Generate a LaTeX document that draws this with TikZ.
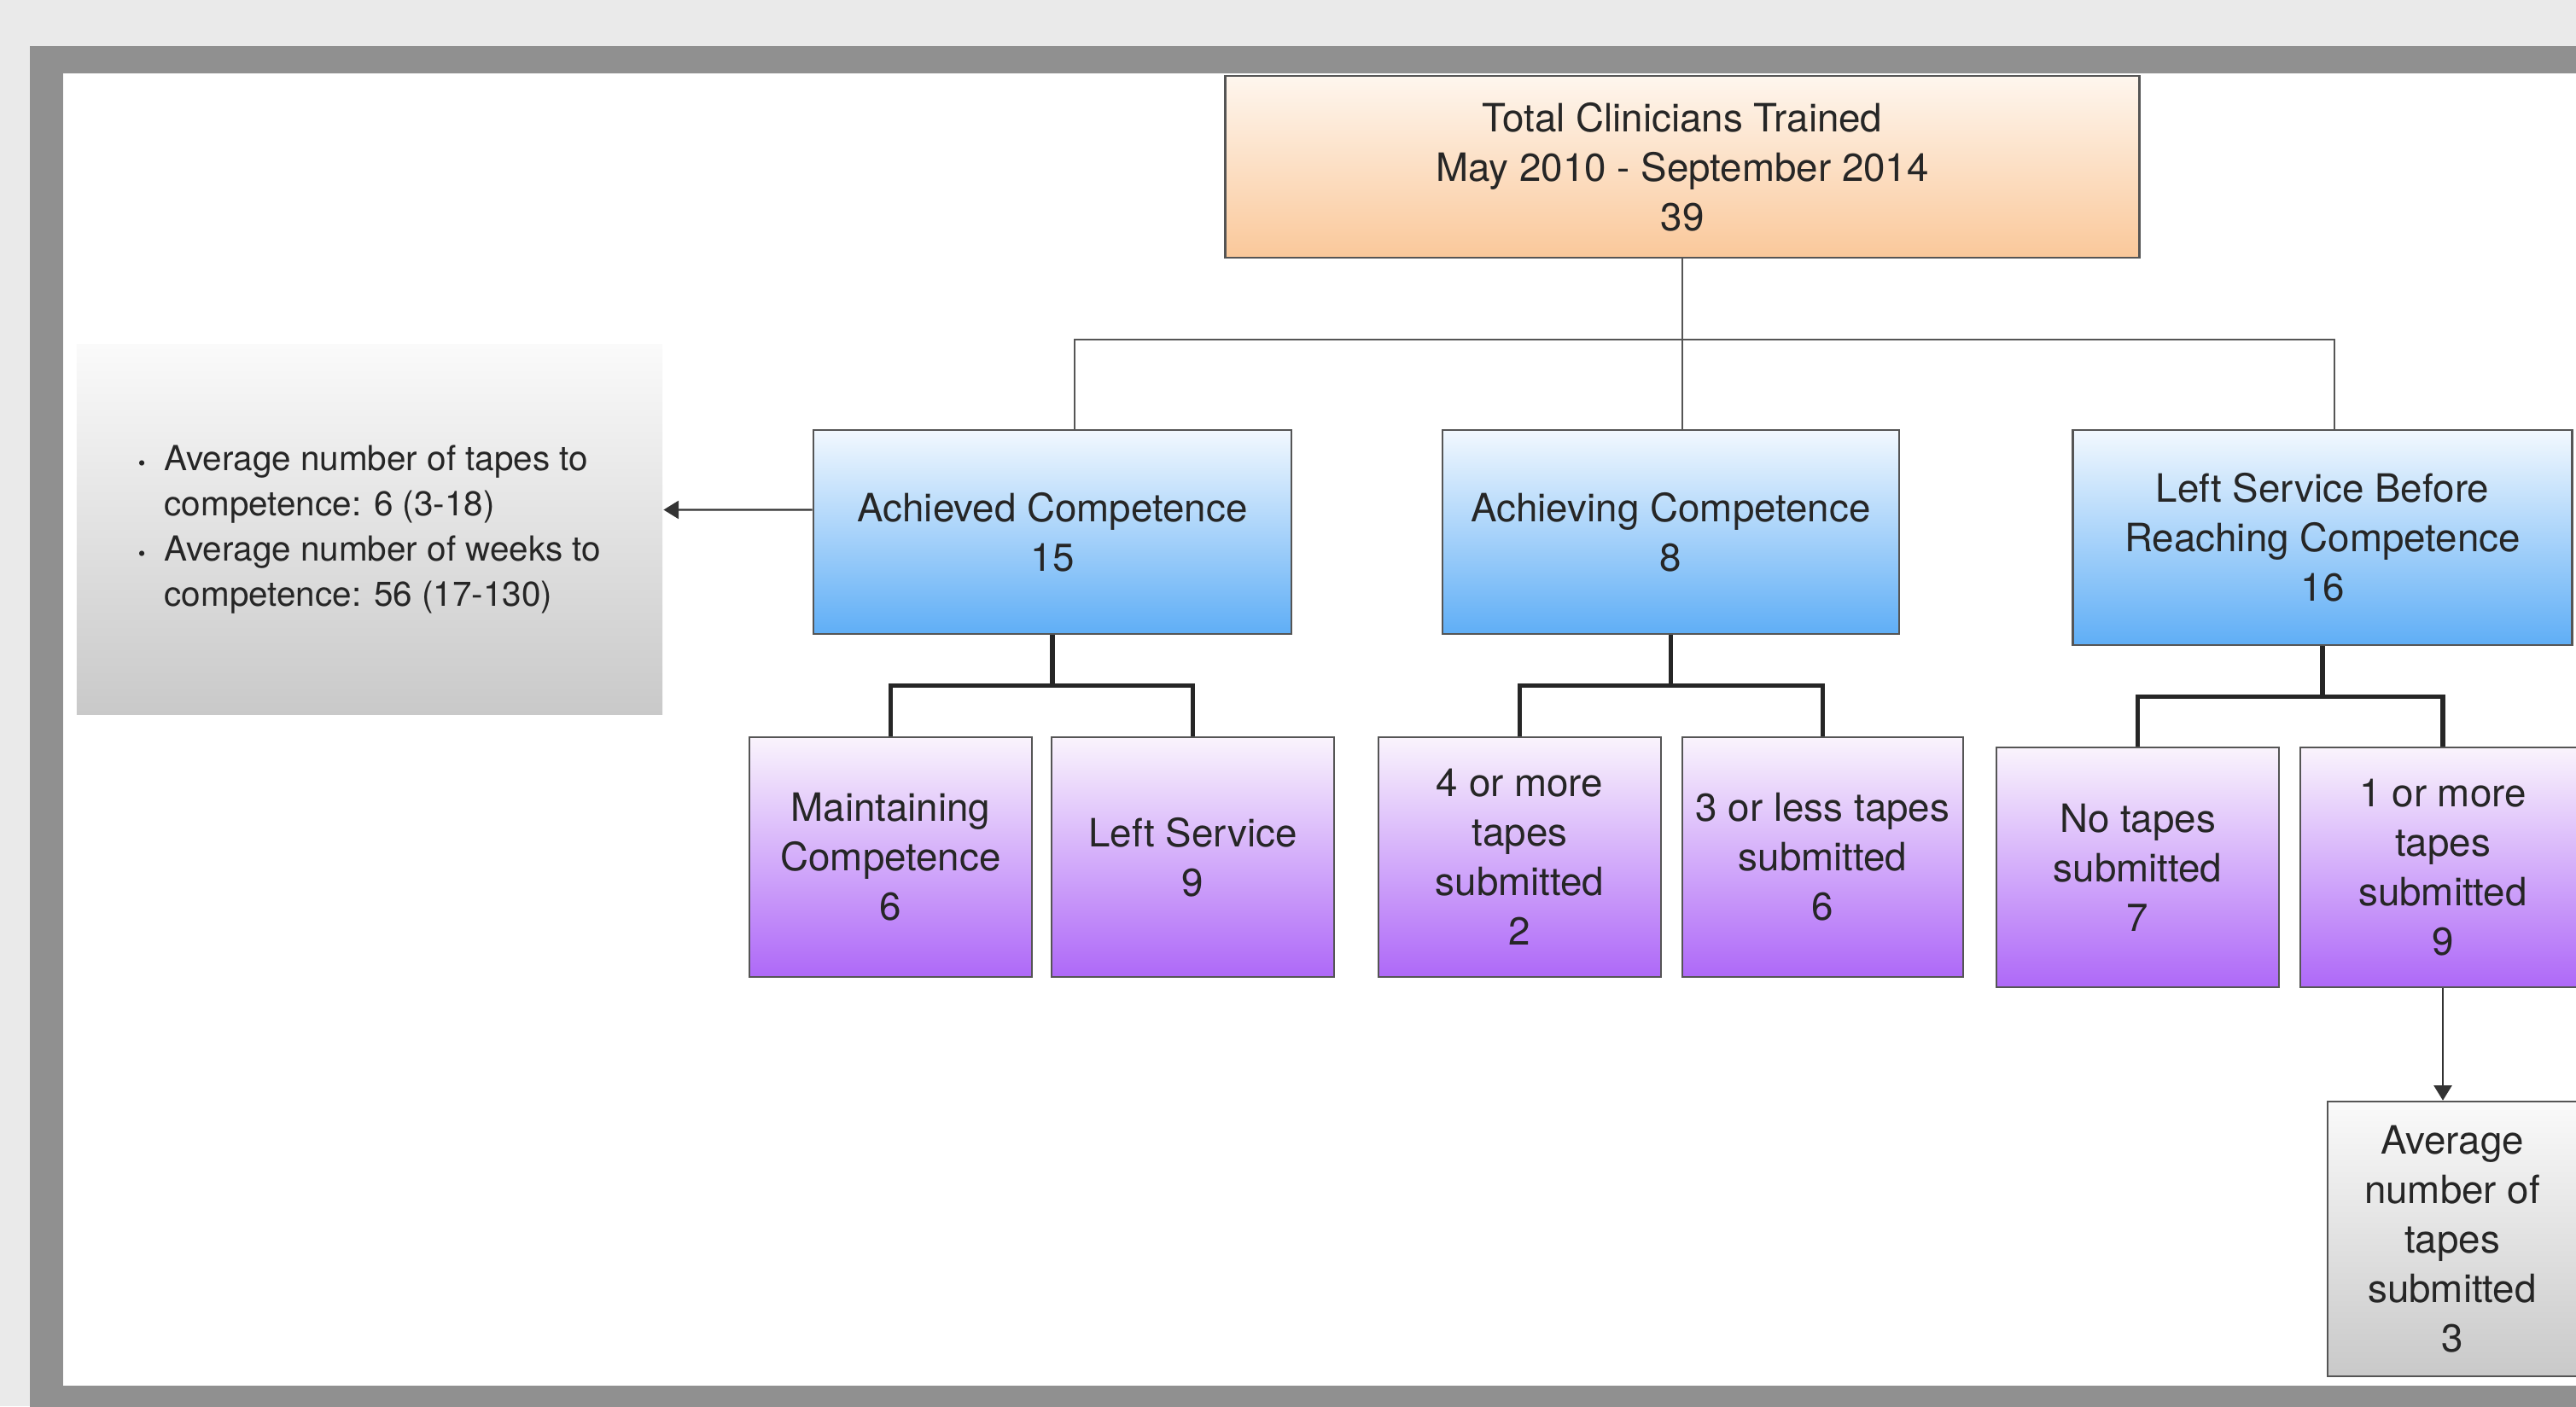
\documentclass[tikz,border=0pt]{standalone}
\usepackage{fontspec}
\setmainfont{TeX Gyre Heros}
\usetikzlibrary{arrows.meta}

\definecolor{pagegray}{HTML}{EAEAEA}
\definecolor{framegray}{HTML}{909090}
\definecolor{orangetop}{HTML}{FEF6EE}
\definecolor{orangebot}{HTML}{FAC89A}
\definecolor{bluetop}{HTML}{F2F8FE}
\definecolor{bluebot}{HTML}{5FAEF6}
\definecolor{purpletop}{HTML}{FAF4FC}
\definecolor{purplebot}{HTML}{AE68F8}
\definecolor{greytop}{HTML}{FAFAFA}
\definecolor{greybot}{HTML}{C9C9C9}
\definecolor{edgegray}{HTML}{555555}

\tikzset{
  box/.style={draw=edgegray, line width=0.7pt, align=center, inner sep=0pt,
    text=black!85, font=\fontsize{13}{16.5}\selectfont},
  totalbox/.style={box, top color=orangetop, bottom color=orangebot,
    minimum width=10.7cm, minimum height=2.13cm},
  groupbox/.style={box, top color=bluetop, bottom color=bluebot,
    minimum height=2.39cm},
  subbox/.style={box, top color=purpletop, bottom color=purplebot,
    minimum width=3.31cm, minimum height=2.81cm},
  notebox/.style={box, draw=none, top color=greytop, bottom color=greybot,
    font=\fontsize{11.5}{15}\selectfont},
  link/.style={draw=edgegray, line width=0.6pt},
  bracket/.style={draw=black!85, line width=1.5pt},
  arrow/.style={draw=black!80, line width=0.6pt,
    -{Triangle[length=5pt,width=6pt]}}
}
\newcommand{\notebullet}{{\fontsize{7}{7}\selectfont\textbullet}}

\begin{document}
\begin{tikzpicture}[x=0.01cm, y=-0.01cm]

\clip (0,0) rectangle (3018,1648);
\fill[pagegray] (0,0) rectangle (3018,1648);
\fill[framegray] (35,54) rectangle (3100,1700);
\fill[white] (74,86) rectangle (3100,1624);

\node[totalbox] (top) at (1971,195.5)
  {Total Clinicians Trained\\May 2010 - September 2014\\39};

\node[groupbox, minimum width=5.6cm] (ach) at (1233,623.5)
  {Achieved Competence\\15};
\node[groupbox, minimum width=5.35cm] (achg) at (1957.5,623.5)
  {Achieving Competence\\8};
\node[groupbox, minimum width=5.85cm, minimum height=2.52cm] (left) at (2721,630)
  {Left Service Before\\Reaching Competence\\16};

\node[notebox, minimum width=6.86cm, minimum height=4.33cm] (note) at (433,620.5) {%
  \begin{tabular}{@{}l@{\hspace{0.22cm}}l@{}}
  \notebullet & Average number of tapes to\\
              & competence: 6 (3-18)\\
  \notebullet & Average number of weeks to\\
              & competence: 56 (17-130)
  \end{tabular}};

\node[subbox] (maint) at (1043.5,1004.5) {Maintaining\\Competence\\6};
\node[subbox] (lsvc) at (1397.5,1004.5) {Left Service\\9};
\node[subbox] (four) at (1780.5,1004.5) {4 or more\\tapes\\submitted\\2};
\node[subbox, minimum width=3.29cm] (three) at (2135.5,1004.5)
  {3 or less tapes\\submitted\\6};
\node[subbox] (none) at (2504.5,1016.5) {No tapes\\submitted\\7};
\node[subbox, minimum width=3.34cm] (more) at (2862,1016.5)
  {1 or more\\tapes\\submitted\\9};

\node[box, top color=greytop, bottom color=greybot,
  minimum width=2.92cm, minimum height=3.22cm] (avg) at (2873,1452)
  {Average\\number of\\tapes\\submitted\\3};

\coordinate (busL) at (1259,398);
\coordinate (busR) at (2735,398);
\draw[link] (top.south) -- (top.south |- achg.north);
\draw[link] (busL |- ach.north) -- (busL) -- (busR) -- (busR |- left.north);

\draw[bracket] (ach.south) -- ++(0,62);
\draw[bracket] (maint.north) -- ++(0,-59) -| (lsvc.north);
\draw[bracket] (achg.south |- top.south) ++(0,441) -- ++(0,62);
\draw[bracket] (four.north) -- ++(0,-59) -| (three.north);
\draw[bracket] (left.south) -- ++(0,62);
\draw[bracket] (none.north) -- ++(0,-58) -| (more.north);

\draw[arrow] ([yshift=2.6mm]ach.west) -- ([yshift=2.3mm]note.east);
\draw[arrow] (more.south) -- (more.south |- avg.north);

\end{tikzpicture}
\end{document}
